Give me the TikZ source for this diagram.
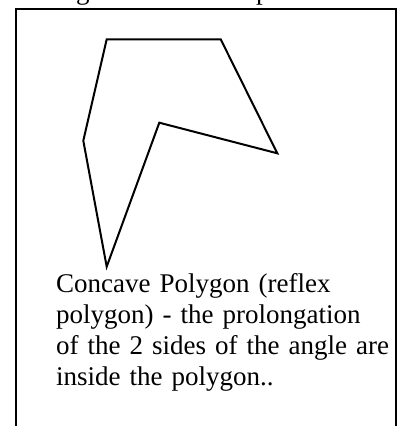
\documentclass[tikz,border=0pt]{standalone}
\usepackage{fontspec}
\setmainfont{Liberation Serif}
\begin{document}
\begin{tikzpicture}[x=1pt,y=-1pt,
  frame/.style={line width=2.8pt,line cap=rect},
  poly/.style={line width=2pt,line join=miter},
  fragment/.style={font=\fontsize{27}{31}\selectfont,inner sep=0pt,anchor=base west},
  caption/.style={font=\fontsize{27}{31}\selectfont,align=left,inner sep=0pt,anchor=base west,text width=345pt}]
\useasboundingbox (0,0) rectangle (401,426);
\begin{scope}
\clip (0,0) rectangle (401,426);
\node[fragment] (frag1) at (76,-0.5) {g};
\node[fragment] (frag2) at (256,-0.5) {p};
\end{scope}
\draw[frame] (16,430) -- (16,9) -- (396,9) -- (396,430);
\coordinate (A) at (106.7,39.3);
\coordinate (B) at (220.7,39.3);
\coordinate (C) at (277.3,153.3);
\coordinate (D) at (159.3,122.7);
\coordinate (E) at (106.7,266.7);
\coordinate (F) at (83.3,140.7);
\draw[poly] (A) -- (B) -- (C) -- (D) -- (E) -- (F) -- cycle;
\node[caption] (txt) at (56,292) {Concave Polygon (reflex\\polygon) - the prolongation\\of the 2 sides of the angle are\\inside the polygon..};
\end{tikzpicture}
\end{document}
